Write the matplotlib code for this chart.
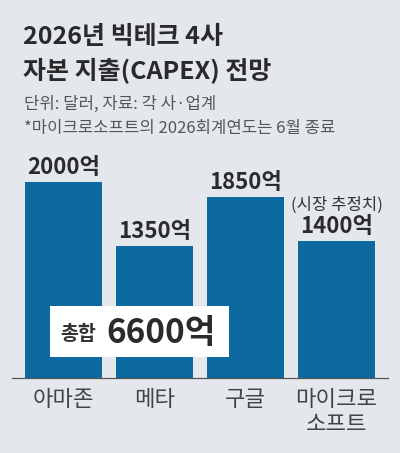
import matplotlib
matplotlib.use("Agg")
import matplotlib.pyplot as plt
from matplotlib.patches import Rectangle

# ==============================
# data
# ==============================
companies = ["아마존", "메타", "구글", "마이크로\n소프트"]
capex = [2000, 1350, 1850, 1400]   # 억 달러
total = 6600

title_lines = ["2026년 빅테크 4사", "자본 지출(CAPEX) 전망"]
sub_lines = ["단위: 달러, 자료: 각 사·업계", "*마이크로소프트의 2026회계연도는 6월 종료"]

plt.rcParams["font.family"] = ["Noto Sans CJK KR", "DejaVu Sans"]

W, H = 400, 453
BG = "#e4e8ed"
BAR = "#0d6a9f"

fig = plt.figure(figsize=(W / 100, H / 100), dpi=100)
fig.patch.set_facecolor(BG)


def fy(px):
    # pixel from top -> figure fraction
    return 1 - px / H


def fx(px):
    return px / W


# ==============================
# titles
# ==============================
fig.text(fx(23), fy(44), title_lines[0], fontsize=18, fontweight="bold",
         color="#2a2a2a", va="baseline")
fig.text(fx(23), fy(79), title_lines[1], fontsize=18, fontweight="bold",
         color="#2a2a2a", va="baseline")
fig.text(fx(24), fy(109), sub_lines[0], fontsize=12, color="#555555", va="baseline")
fig.text(fx(24), fy(133), sub_lines[1], fontsize=12, color="#555555", va="baseline")

# ==============================
# bars
# ==============================
scale = 0.098  # px per unit
base = 378
top = 150
ax = fig.add_axes([fx(12), fy(base), fx(388) - fx(12), (base - top) / H])
ax.set_facecolor("none")
x = range(len(companies))
ax.bar(x, capex, width=0.846, color=BAR)
ax.set_xlim(-0.566, 3.566)
ax.set_ylim(0, (base - top) / scale)
for s in ["top", "right", "left"]:
    ax.spines[s].set_visible(False)
ax.spines["bottom"].set_color("#555555")
ax.spines["bottom"].set_linewidth(0.9)
ax.set_yticks([])
ax.set_xticks(list(x))
ax.set_xticklabels(companies, fontsize=16, color="#444444", linespacing=1.15)
ax.tick_params(axis="x", length=0, pad=7)

for i, v in enumerate(capex):
    ax.annotate(f"{v}억", (i, v), xytext=(0, 5.5), textcoords="offset points",
                ha="center", va="baseline", fontsize=16, fontweight="heavy",
                color="#2b2b2b")
ax.annotate("(시장 추정치)", (3, capex[3]), xytext=(0.5, 22), textcoords="offset points",
            ha="center", va="baseline", fontsize=12, color="#333333")

# ==============================
# total box
# ==============================
fig.patches.append(Rectangle((fx(50), fy(357)), fx(229) - fx(50), (357 - 306) / H,
                             transform=fig.transFigure, facecolor="white",
                             edgecolor="none", zorder=5))
fig.text(fx(60), fy(340), "총합", fontsize=14, fontweight="bold", color="#333333",
         va="baseline", zorder=6)
fig.text(fx(106), fy(343), f"{total}억", fontsize=24, fontweight="heavy",
         color="#2b2b2b", va="baseline", zorder=6)

plt.savefig("out.png", dpi=100, facecolor=BG)
